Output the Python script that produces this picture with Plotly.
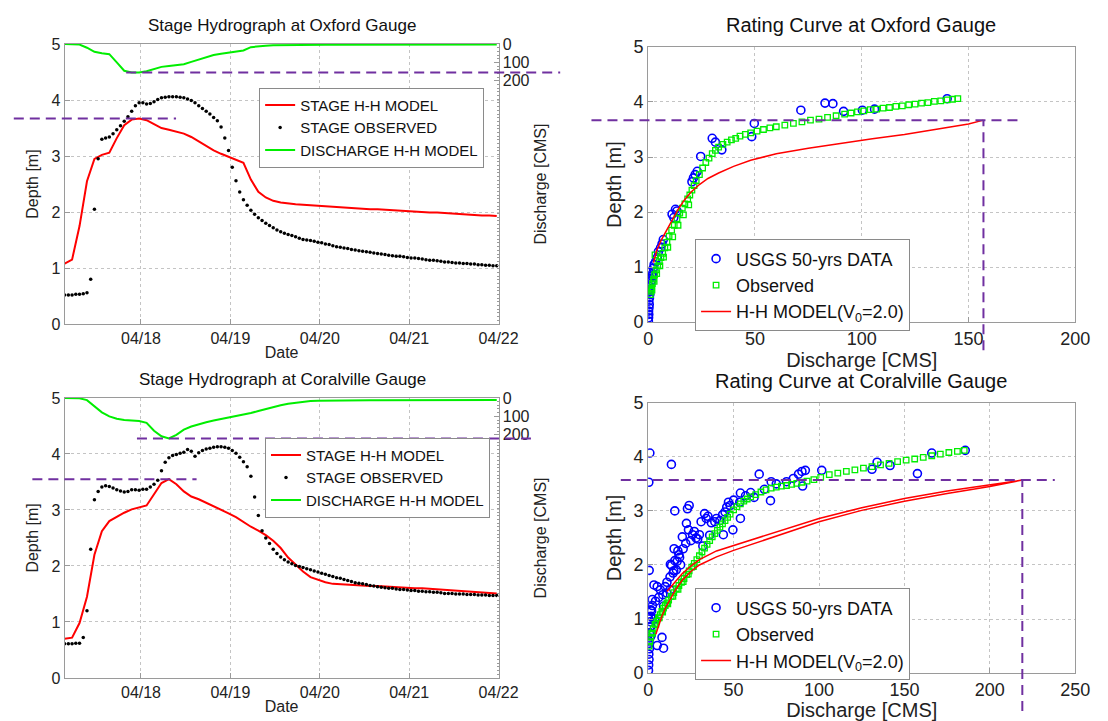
import pandas as pd
import plotly.graph_objects as go

W, H = 1108, 721
FONT = "Liberation Sans, Arial, sans-serif"

# ---- stage hydrographs: observed stage, hourly from 04/17 03:30 ----
t_start = "2013-04-17 03:30"
oxford_obs_stage = [
    0.52, 0.52, 0.52, 0.53, 0.53, 0.54,
    0.56, 0.80, 2.05, 2.95, 3.30, 3.32, 3.34, 3.40, 3.47, 3.54,
    3.62, 3.70, 3.80, 3.90, 3.95, 3.95, 3.93, 3.94, 3.97, 4.01,
    4.04, 4.05, 4.06, 4.06, 4.06, 4.05, 4.04, 4.02, 3.99, 3.95,
    3.90, 3.85, 3.80, 3.75, 3.69, 3.63, 3.52, 3.32, 3.10, 2.80,
    2.56, 2.36, 2.22, 2.12, 2.03, 1.96, 1.90, 1.85, 1.80, 1.76,
    1.72, 1.68, 1.65, 1.62, 1.60, 1.58, 1.56, 1.53, 1.51, 1.50,
    1.49, 1.48, 1.46, 1.45, 1.43, 1.42, 1.40, 1.38, 1.37, 1.36,
    1.35, 1.33, 1.32, 1.31, 1.30, 1.29, 1.28, 1.27, 1.26, 1.25,
    1.24, 1.23, 1.22, 1.21, 1.21, 1.20, 1.19, 1.18, 1.18, 1.17,
    1.16, 1.15, 1.14, 1.14, 1.13, 1.12, 1.11, 1.11, 1.10, 1.09,
    1.09, 1.08, 1.08, 1.07, 1.07, 1.06, 1.06, 1.05, 1.05, 1.04,
    1.04]
coral_obs_stage = [
    0.61, 0.61, 0.61, 0.62, 0.62, 0.72,
    1.20, 2.30, 3.18, 3.33, 3.41, 3.43, 3.42, 3.39, 3.36, 3.34,
    3.32, 3.33, 3.36, 3.36, 3.35, 3.37, 3.37, 3.41, 3.46, 3.53,
    3.70, 3.85, 3.93, 3.97, 3.99, 4.01, 4.03, 4.08, 4.05, 3.96,
    4.02, 4.06, 4.09, 4.10, 4.12, 4.13, 4.13, 4.12, 4.10, 4.06,
    4.01, 3.94, 3.86, 3.77, 3.60, 3.23, 2.90, 2.63, 2.50, 2.40,
    2.30, 2.22, 2.16, 2.11, 2.07, 2.04, 2.01, 1.99, 1.97, 1.95,
    1.93, 1.91, 1.89, 1.87, 1.85, 1.83, 1.81, 1.79, 1.78, 1.76,
    1.74, 1.72, 1.70, 1.69, 1.68, 1.67, 1.65, 1.64, 1.63, 1.62,
    1.61, 1.60, 1.60, 1.59, 1.58, 1.58, 1.57, 1.56, 1.56, 1.55,
    1.55, 1.54, 1.54, 1.53, 1.53, 1.52, 1.51, 1.51, 1.51, 1.50,
    1.50, 1.50, 1.49, 1.49, 1.49, 1.48, 1.48, 1.48, 1.47, 1.47,
    1.47]

# ---- H-H model output, every 2 hours from 04/17 03:30 ----
oxford_model_stage = [
    1.08, 1.15, 1.75, 2.55, 2.95, 3.02, 3.06, 3.32, 3.55, 3.65,
    3.67, 3.64, 3.57, 3.50, 3.47, 3.44, 3.40, 3.34, 3.26, 3.18,
    3.10, 3.04, 2.99, 2.94, 2.88, 2.58, 2.36, 2.26, 2.20, 2.17,
    2.15, 2.14, 2.13, 2.12, 2.11, 2.10, 2.09, 2.09, 2.08, 2.07,
    2.06, 2.05, 2.05, 2.04, 2.03, 2.02, 2.01, 2.01, 2.00, 1.99,
    1.99, 1.98, 1.97, 1.96, 1.96, 1.95, 1.94, 1.94, 1.93]
oxford_model_q = [
    0, 0, 3, 20, 42, 50, 55, 100, 145, 154,
    154, 148, 135, 124, 119, 115, 110, 97, 84, 70,
    60, 53, 47, 43, 35, 17, 11, 9, 7, 6,
    5, 5, 5, 5, 5, 4, 4, 4, 4, 4,
    4, 4, 4, 4, 4, 4, 3, 3, 3, 3,
    3, 3, 3, 3, 3, 3, 3, 3, 3]
coral_model_stage = [
    0.70, 0.72, 0.98, 1.45, 2.20, 2.62, 2.80, 2.88, 2.95, 3.01,
    3.04, 3.08, 3.28, 3.48, 3.55, 3.46, 3.33, 3.24, 3.19, 3.13,
    3.07, 3.00, 2.94, 2.87, 2.78, 2.70, 2.63, 2.55, 2.45, 2.32,
    2.15, 2.02, 1.90, 1.80, 1.75, 1.71, 1.68, 1.67, 1.66, 1.65,
    1.65, 1.64, 1.64, 1.63, 1.63, 1.62, 1.61, 1.60, 1.60, 1.59,
    1.58, 1.57, 1.56, 1.56, 1.55, 1.54, 1.53, 1.52, 1.51]
coral_model_q = [
    0, 0, 2, 12, 45, 78, 100, 113, 120, 123,
    125, 135, 178, 208, 220, 200, 172, 155, 142, 132,
    123, 115, 108, 100, 91, 82, 71, 60, 50, 40,
    32, 26, 20, 17, 15, 14, 14, 13, 13, 13,
    13, 12, 12, 12, 12, 12, 12, 12, 11, 11,
    11, 11, 11, 11, 11, 11, 11, 11, 11]

date_ticks = ["2013-04-18", "2013-04-19", "2013-04-20", "2013-04-21", "2013-04-22"]
q_ticks = [0, 100, 200]

# ---- rating curves ----
ox_usgs_q = [0.1, 0.2, 0.3, 0.2, 0.4, 0.5, 0.3, 0.6, 0.8, 0.5,
             1.0, 0.7, 1.2, 1.5, 1.0, 1.8, 2.0, 0.3, 2.4, 2.8,
             3.5, 4.3, 4.8, 5.8, 6.5, 7.1, 11.2, 12.0, 12.8, 13.5,
             20.5, 21.2, 22.0, 23.0, 24.6, 30.0, 31.5, 34.5, 48.5, 49.7,
             71.5, 82.8, 86.5, 91.5, 100.3, 106.0, 140.0]
ox_usgs_h = [0.02, 0.08, 0.14, 0.20, 0.26, 0.32, 0.38, 0.44, 0.50, 0.55,
             0.60, 0.65, 0.70, 0.75, 0.80, 0.84, 0.88, 0.91, 0.98, 1.05,
             1.10, 1.17, 1.28, 1.35, 1.42, 1.50, 1.96, 1.90, 2.05, 2.02,
             2.55, 2.62, 2.68, 2.74, 3.01, 3.34, 3.27, 3.13, 3.37, 3.61,
             3.85, 3.98, 3.97, 3.83, 3.85, 3.87, 4.06]
ox_obs_q = [1.0, 1.3, 1.6, 2.0, 2.5, 3.0, 3.2, 3.8, 4.5, 5.2,
            6.0, 6.8, 7.8, 8.8, 9.8, 11.0, 12.2, 13.5, 14.8, 16.0,
            17.2, 18.5, 19.5, 20.5, 21.5, 22.5, 24.0, 25.5, 27.0, 28.5,
            30.0, 31.5, 33.0, 35.0, 37.0, 39.0, 41.0, 43.0, 45.5, 48.0,
            51, 54, 57, 60, 64, 68, 72, 76, 80, 84,
            88, 92, 95, 98, 101, 104, 107, 110, 113, 116,
            119, 122, 125, 128, 131, 134, 137, 140, 142.5, 145,
            1.8, 2.8, 4.0, 5.5, 7.2, 9.2, 11.5, 14.0, 16.5, 19.0]
ox_obs_h = [0.50, 0.56, 0.62, 0.70, 0.78, 0.86, 1.22, 0.95, 1.02, 1.10,
            1.17, 1.25, 1.35, 1.45, 1.56, 1.67, 1.76, 1.88, 1.98, 2.07,
            2.15, 2.24, 2.31, 2.40, 2.48, 2.57, 2.68, 2.80, 2.90, 2.98,
            3.06, 3.12, 3.18, 3.23, 3.27, 3.31, 3.34, 3.38, 3.41, 3.44,
            3.47, 3.50, 3.53, 3.55, 3.58, 3.61, 3.64, 3.67, 3.69, 3.72,
            3.75, 3.78, 3.80, 3.82, 3.84, 3.86, 3.87, 3.89, 3.90, 3.92,
            3.93, 3.95, 3.96, 3.98, 3.99, 4.01, 4.02, 4.04, 4.05, 4.06,
            0.58, 0.74, 0.88, 1.02, 1.18, 1.36, 1.55, 1.76, 1.95, 2.13]
ox_model_q = [2.5, 4, 6, 8, 11, 14, 17, 20, 24, 28, 33, 40, 48, 60, 75, 90, 105, 120, 135, 150, 157]
ox_model_h = [1.08, 1.30, 1.48, 1.63, 1.85, 2.05, 2.22, 2.36, 2.50, 2.61, 2.71, 2.83, 2.94,
              3.06, 3.16, 3.25, 3.33, 3.41, 3.50, 3.60, 3.67]

co_usgs_q = [1.0, 0.4, 13.6, 0.6, 15.6, 23.0, 24.0, 15.2, 18.0, 17.0,
             13.0, 15.0, 20.0, 22.4, 23.6, 26.0, 28.0, 30.0, 31.0, 33.0,
             34.0, 32.0, 39.0, 40.0, 43.6, 46.0, 47.0, 44.0, 49.6, 54.0,
             53.6, 54.0, 60.0, 65.0, 68.0, 72.0, 71.6, 81.0, 88.0, 90.0,
             92.0, 90.4, 101.6, 131.0, 134.0, 141.6, 157.6, 166.0, 185.6,
             3.4, 5.3, 7.1, 2.4, 4.3, 6.2, 8.6, 10.9, 12.8, 9.0,
             1.5, 3.8, 8.1, 9.0, 5.3, 13.7, 15.6, 17.4, 18.4, 16.5,
             14.6, 12.8, 1.5, 25.0, 27.0, 29.0, 35.0, 37.0, 42.0, 45.0,
             48.0, 50.0, 57.0, 62.0, 75.0, 85.0, 20.5, 22.0, 11.0, 10.0,
             19.0, 36.0,
             0.2, 0.3, 0.5, 0.4, 0.7, 0.6, 1.0, 0.8, 1.3, 1.1,
             1.6, 2.0, 2.5, 0.3, 0.5, 1.8]
co_usgs_h = [4.07, 3.53, 3.86, 1.90, 3.00, 3.04, 3.10, 2.30, 2.19, 2.07,
             2.01, 1.89, 2.52, 2.77, 2.65, 2.56, 2.50, 2.56, 2.80, 2.95,
             2.86, 2.35, 2.80, 2.86, 2.93, 3.07, 3.16, 2.56, 2.65, 3.33,
             3.16, 2.86, 3.34, 3.68, 3.40, 3.54, 3.19, 3.54, 3.68, 3.73,
             3.75, 3.46, 3.75, 3.77, 3.90, 3.84, 3.69, 4.07, 4.12,
             1.63, 1.60, 1.54, 1.36, 1.33, 1.40, 1.45, 1.48, 1.54, 1.24,
             1.17, 1.00, 0.66, 0.46, 0.51, 1.99, 2.08, 2.26, 2.14, 1.91,
             1.85, 1.78, 0.87, 2.45, 2.62, 2.48, 2.90, 2.78, 2.82, 2.98,
             3.10, 3.20, 3.28, 3.25, 3.50, 3.60, 2.30, 2.40, 1.68, 1.60,
             2.00, 2.55,
             0.05, 0.15, 0.25, 0.35, 0.45, 0.55, 0.65, 0.75, 0.85, 0.95,
             1.05, 1.15, 1.25, 0.60, 1.00, 0.70]
co_obs_q = [0.5, 1, 1.5, 2, 3, 4, 5, 6, 7, 8,
            9, 10, 11, 12, 13.5, 15, 16.5, 18, 19.5, 21,
            22.5, 24, 25.5, 27, 28.5, 30, 31.5, 33, 34.5, 36,
            37.5, 39, 40.5, 42, 43.5, 45, 46.5, 48, 50, 52,
            54, 56, 58, 60, 63, 66, 69, 72, 75, 78,
            81, 84, 87, 90, 93, 97, 101, 106, 111, 116,
            121, 126, 131, 136, 141, 146, 151, 156, 161, 166,
            171, 176, 181, 185,
            2.5, 4.5, 6.5, 8.5, 11.5, 14.5, 17.5, 20.5, 23.5, 26.5]
co_obs_h = [0.50, 0.58, 0.66, 0.74, 0.82, 0.90, 0.96, 1.02, 1.08, 1.14,
            1.20, 1.25, 1.30, 1.35, 1.42, 1.49, 1.56, 1.62, 1.68, 1.75,
            1.82, 1.89, 1.96, 2.03, 2.10, 2.17, 2.24, 2.31, 2.38, 2.45,
            2.52, 2.58, 2.64, 2.70, 2.76, 2.82, 2.88, 2.94, 3.02, 3.08,
            3.13, 3.18, 3.22, 3.26, 3.30, 3.35, 3.39, 3.42, 3.44, 3.46,
            3.47, 3.49, 3.51, 3.53, 3.55, 3.58, 3.62, 3.67, 3.70, 3.73,
            3.76, 3.79, 3.82, 3.85, 3.88, 3.91, 3.94, 3.96, 3.99, 4.02,
            4.05, 4.08, 4.10, 4.12,
            0.74, 0.90, 1.02, 1.13, 1.28, 1.42, 1.55, 1.69, 1.83, 1.97]
# rising limb then falling limb (loop)
co_model_q = [4.5, 6, 8, 10, 13, 16, 20, 25, 30, 40, 50, 65, 80, 100, 125, 150, 175, 200, 219,
              200, 175, 150, 125, 100, 80, 65, 50, 40, 30, 25, 20, 16, 13, 11]
co_model_h = [0.72, 0.88, 1.05, 1.20, 1.38, 1.54, 1.72, 1.88, 2.00, 2.15, 2.27, 2.43, 2.58, 2.80,
              3.01, 3.18, 3.32, 3.45, 3.57,
              3.48, 3.37, 3.23, 3.06, 2.86, 2.66, 2.52, 2.37, 2.26, 2.10, 1.98, 1.84, 1.70, 1.58, 1.51]

obs_time = pd.date_range(t_start, periods=len(oxford_obs_stage), freq="h")
model_time = pd.date_range(t_start, periods=len(oxford_model_stage), freq="2h")


def dx(a, b):
    return [a / W, b / W]


def dy(top, bottom):
    return [1 - bottom / H, 1 - top / H]


RED, GREEN, BLUE, PURPLE = "#ff0000", "#00ee00", "#0000ff", "#7030a0"

fig = go.Figure()

# hydrographs
for (stage_obs, stage_mod, q_mod, xa, ya, yq, leg) in [
        (oxford_obs_stage, oxford_model_stage, oxford_model_q, "x", "y", "y2", "legend"),
        (coral_obs_stage, coral_model_stage, coral_model_q, "x3", "y4", "y5", "legend3")]:
    fig.add_trace(go.Scatter(x=model_time, y=stage_mod, mode="lines", name="STAGE H-H MODEL",
                             line=dict(color=RED, width=2), xaxis=xa, yaxis=ya, legend=leg))
    fig.add_trace(go.Scatter(x=obs_time, y=stage_obs, mode="markers", name="STAGE OBSERVED",
                             marker=dict(color="black", size=3.5), xaxis=xa, yaxis=ya, legend=leg))
    fig.add_trace(go.Scatter(x=model_time, y=q_mod, mode="lines", name="DISCHARGE H-H MODEL",
                             line=dict(color=GREEN, width=2), xaxis=xa, yaxis=yq, legend=leg))

# rating curves
for (uq, uh, oq, oh, mq, mh, xa, ya, leg) in [
        (ox_usgs_q, ox_usgs_h, ox_obs_q, ox_obs_h, ox_model_q, ox_model_h, "x2", "y3", "legend2"),
        (co_usgs_q, co_usgs_h, co_obs_q, co_obs_h, co_model_q, co_model_h, "x4", "y6", "legend4")]:
    fig.add_trace(go.Scatter(x=uq, y=uh, mode="markers", name="USGS 50-yrs DATA",
                             marker=dict(symbol="circle-open", color=BLUE, size=8, line=dict(width=1.6)),
                             xaxis=xa, yaxis=ya, legend=leg))
    fig.add_trace(go.Scatter(x=oq, y=oh, mode="markers", name="Observed",
                             marker=dict(symbol="square-open", color=GREEN, size=5.5, line=dict(width=1.3)),
                             xaxis=xa, yaxis=ya, legend=leg))
    fig.add_trace(go.Scatter(x=mq, y=mh, mode="lines", name="H-H MODEL(V<sub>0</sub>=2.0)",
                             line=dict(color=RED, width=1.5), xaxis=xa, yaxis=ya, legend=leg))

axcol = "#9a9a9a"
base = dict(showgrid=True, gridcolor="#c4c4c4", griddash="dot", gridwidth=1,
            showline=True, linecolor=axcol, linewidth=1, mirror=True,
            ticks="inside", ticklen=5, tickcolor=axcol, zeroline=False)

left_x = dx(61, 505)
right_x = dx(658, 1095)
tl_y, bl_y = dy(35, 323), dy(399, 687)
tr_y, br_y = dy(38, 321), dy(404, 682)

tick_l = dict(family=FONT, size=16, color="#222")
tick_r = dict(family=FONT, size=18, color="#222")
ttl_l = dict(family=FONT, size=16, color="#222")
ttl_r = dict(family=FONT, size=20, color="#222")


def date_axis(dom, anchor):
    return dict(base, domain=dom, anchor=anchor, type="date",
                range=[t_start, "2013-04-22 00:00"], tickvals=date_ticks, tickformat="%m/%d",
                tickfont=tick_l, title=dict(text="Date", font=ttl_l, standoff=0))


def depth_axis(dom, anchor, tf, tt, standoff):
    return dict(base, domain=dom, anchor=anchor, range=[0, 5], dtick=1, tickfont=tf,
                title=dict(text="Depth [m]", font=tt, standoff=standoff))


def q_axis(over, anchor):
    return dict(overlaying=over, anchor=anchor, side="right", range=[1520, 0],
                tickmode="array", tickvals=q_ticks, showgrid=False,
                showline=True, linecolor=axcol, ticks="inside", ticklen=5, tickcolor=axcol,
                minor=dict(tickmode="linear", tick0=0, dtick=20, ticks="inside", ticklen=2,
                           tickcolor=axcol),
                zeroline=False, tickfont=tick_l,
                title=dict(text="Discharge [CMS]", font=ttl_l, standoff=6))


def q_xaxis(dom, anchor, top):
    return dict(base, domain=dom, anchor=anchor, range=[0, top], dtick=50, tickfont=tick_r,
                title=dict(text="Discharge [CMS]", font=ttl_r, standoff=0))


def legend_at(x, y, size):
    return dict(x=x / W, y=1 - y / H, xanchor="left", yanchor="top", bgcolor="white",
                bordercolor="#8a8a8a", borderwidth=1, font=dict(family=FONT, size=size, color="#111"),
                tracegroupgap=0, itemwidth=30)


# peak markers (dashed)
dash = dict(color=PURPLE, width=2, dash="10px,6px")
shapes = [
    dict(type="line", xref="paper", yref="y", x0=9 / W, x1=175 / W,
         y0=max(oxford_model_stage), y1=max(oxford_model_stage), line=dash),
    dict(type="line", xref="paper", yref="y2", x0=124 / W, x1=568 / W,
         y0=max(oxford_model_q), y1=max(oxford_model_q), line=dash),
    dict(type="line", xref="paper", yref="y4", x0=28 / W, x1=196 / W,
         y0=max(coral_model_stage), y1=max(coral_model_stage), line=dash),
    dict(type="line", xref="paper", yref="y5", x0=135 / W, x1=540 / W,
         y0=max(coral_model_q), y1=max(coral_model_q), line=dash),
    dict(type="line", xref="paper", yref="y3", x0=600 / W, x1=1040 / W,
         y0=max(ox_model_h), y1=max(ox_model_h), line=dash),
    dict(type="line", xref="x2", yref="paper", x0=max(ox_model_q), x1=max(ox_model_q),
         y0=1 - 350 / H, y1=tr_y[0] + max(ox_model_h) / 5 * (tr_y[1] - tr_y[0]), line=dash),
    dict(type="line", xref="paper", yref="y6", x0=630 / W, x1=1074 / W,
         y0=max(co_model_h), y1=max(co_model_h), line=dash),
    dict(type="line", xref="x4", yref="paper", x0=max(co_model_q), x1=max(co_model_q),
         y0=0, y1=br_y[0] + max(co_model_h) / 5 * (br_y[1] - br_y[0]), line=dash),
]

titles = [
    ("Stage Hydrograph at Oxford Gauge", 283, 16, 17),
    ("Rating Curve at Oxford Gauge", 876, 15, 20),
    ("Stage Hydrograph at Coralville Gauge", 284, 380, 17),
    ("Rating Curve at Coralville Gauge", 876, 382, 20),
]
annotations = [dict(text=t, x=x / W, y=1 - y / H, xref="paper", yref="paper", showarrow=False,
                    xanchor="center", yanchor="middle", font=dict(family=FONT, size=s, color="#111"))
               for t, x, y, s in titles]

fig.update_layout(
    width=W, height=H, margin=dict(l=0, r=0, t=0, b=0),
    paper_bgcolor="white", plot_bgcolor="white", font=dict(family=FONT, color="#222"),
    xaxis=date_axis(left_x, "y"),
    yaxis=depth_axis(tl_y, "x", tick_l, ttl_l, 8),
    yaxis2=q_axis("y", "x"),
    xaxis2=q_xaxis(right_x, "y3", 200),
    yaxis3=depth_axis(tr_y, "x2", tick_r, ttl_r, 6),
    xaxis3=date_axis(left_x, "y4"),
    yaxis4=depth_axis(bl_y, "x3", tick_l, ttl_l, 8),
    yaxis5=q_axis("y4", "x3"),
    xaxis4=q_xaxis(right_x, "y6", 250),
    yaxis6=depth_axis(br_y, "x4", tick_r, ttl_r, 6),
    legend=legend_at(260, 80, 15),
    legend2=legend_at(706, 236, 18),
    legend3=legend_at(266, 440, 15),
    legend4=legend_at(706, 595, 18),
    shapes=shapes,
    annotations=annotations,
)

# the page's default body margin would push the fixed-size figure off the window
fig.write_html("out.html", config={"displayModeBar": False},
               post_script="document.body.style.margin='0';")
